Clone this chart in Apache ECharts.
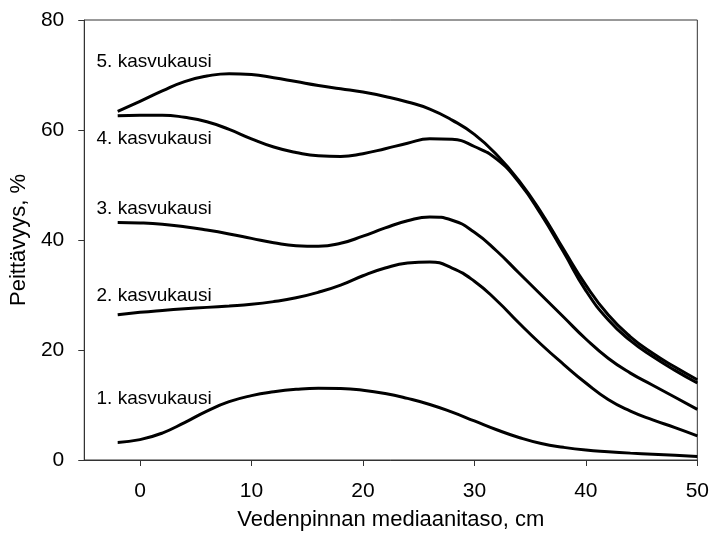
<!DOCTYPE html>
<html>
<head>
<meta charset="utf-8">
<script src="https://cdn.jsdelivr.net/npm/echarts@6/dist/echarts.min.js"></script>
<style>
html,body{margin:0;padding:0;background:#fff;}
#chart{width:712px;height:536px;}
</style>
</head>
<body>
<div id="chart"></div>
<script>
var xValues = [-2, 0, 2, 4, 6, 8, 10, 12, 14, 16, 18, 20, 22, 24, 26, 28, 30, 32, 34, 36, 38, 40, 42, 44, 46, 48, 50];
var season1 = [3.2, 3.7, 4.9, 6.8, 8.9, 10.6, 11.7, 12.4, 12.85, 13.05, 13.0, 12.7, 12.1, 11.2, 10.1, 8.7, 7.1, 5.5, 4.1, 3.0, 2.3, 1.8, 1.5, 1.25, 1.05, 0.85, 0.65];
var season2 = [26.4, 26.85, 27.2, 27.5, 27.75, 28.0, 28.3, 28.8, 29.5, 30.5, 31.8, 33.5, 34.9, 35.8, 36.0, 34.9, 32.5, 29.0, 24.9, 21.0, 17.4, 14.0, 11.0, 8.9, 7.3, 5.9, 4.4];
var season3 = [43.2, 43.1, 42.85, 42.4, 41.8, 41.1, 40.3, 39.5, 38.95, 38.85, 39.4, 40.7, 42.2, 43.5, 44.2, 43.6, 41.4, 38.0, 34.0, 30.0, 26.0, 22.0, 18.5, 15.8, 13.6, 11.4, 9.2];
var season4 = [62.6, 62.7, 62.7, 62.3, 61.5, 60.1, 58.4, 56.9, 55.9, 55.3, 55.2, 55.7, 56.6, 57.6, 58.4, 58.3, 57.0, 54.7, 50.5, 44.6, 37.8, 30.8, 25.5, 21.7, 18.8, 16.3, 14.0];
var season5 = [63.4, 65.2, 67.1, 68.8, 69.8, 70.25, 70.1, 69.5, 68.8, 68.1, 67.5, 66.9, 66.1, 65.1, 63.8, 61.8, 59.2, 55.5, 50.8, 45.0, 38.3, 31.8, 26.4, 22.4, 19.4, 16.9, 14.6];
var seriesNames = ['1. kasvukausi', '2. kasvukausi', '3. kasvukausi', '4. kasvukausi', '5. kasvukausi'];
var labelX = [-3.9, -3.9, -3.9, -3.9, -3.9];
var labelY = [11.2, 29.9, 45.7, 58.4, 72.4];
var xTicks = [0, 10, 20, 30, 40, 50];

var allSeries = [season1, season2, season3, season4, season5];
var FONT = '"Liberation Sans", Arial, sans-serif';

var series = allSeries.map(function (vals, i) {
  return {
    name: seriesNames[i],
    type: 'line',
    smooth: 0.5,
    showSymbol: false,
    symbol: 'none',
    lineStyle: { color: '#000', width: 3 },
    data: xValues.map(function (x, j) { return [x, vals[j]]; }),
    markPoint: {
      silent: true,
      symbol: 'circle',
      symbolSize: 0,
      itemStyle: { color: 'rgba(0,0,0,0)' },
      label: {
        show: true,
        position: 'right',
        distance: 0,
        color: '#000',
        fontFamily: FONT,
        fontSize: 19,
        formatter: seriesNames[i]
      },
      data: [{ coord: [labelX[i], labelY[i]] }]
    }
  };
});

var chart = echarts.init(document.getElementById('chart'), null, { renderer: 'canvas' });
chart.setOption({
  animation: false,
  backgroundColor: '#fff',
  grid: {
    left: 83, right: 14, top: 20, bottom: 75,
    show: true, borderColor: '#333', borderWidth: 1, backgroundColor: 'transparent'
  },
  xAxis: {
    type: 'value',
    min: -5,
    max: 50,
    name: 'Vedenpinnan mediaanitaso, cm',
    nameLocation: 'middle',
    nameGap: 49,
    nameTextStyle: { color: '#000', fontFamily: FONT, fontSize: 22 },
    axisLine: { show: true, onZero: false, lineStyle: { color: '#333', width: 1 } },
    axisTick: { show: true, inside: false, length: 6, customValues: xTicks, lineStyle: { color: '#333' } },
    axisLabel: { customValues: xTicks, margin: 21, color: '#000', fontFamily: FONT, fontSize: 21 },
    splitLine: { show: false }
  },
  yAxis: {
    type: 'value',
    min: 0,
    max: 80,
    interval: 20,
    name: 'Peittävyys, %',
    nameLocation: 'middle',
    nameGap: 49,
    nameTextStyle: { color: '#000', fontFamily: FONT, fontSize: 22 },
    axisLine: { show: true, onZero: false, lineStyle: { color: '#333', width: 1 } },
    axisTick: { show: true, inside: false, length: 6, lineStyle: { color: '#333' } },
    axisLabel: { margin: 20, color: '#000', fontFamily: FONT, fontSize: 21 },
    splitLine: { show: false }
  },
  series: series
});
</script>
</body>
</html>
